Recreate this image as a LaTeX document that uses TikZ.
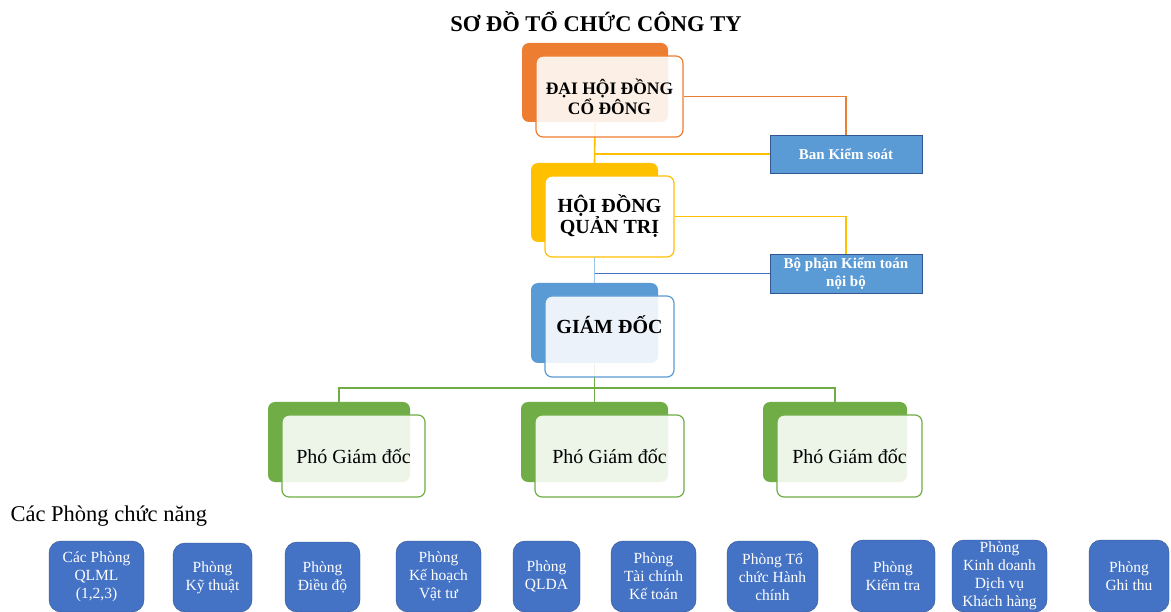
\documentclass[tikz,border=0pt]{standalone}
\usepackage{fontspec}
\setmainfont{Liberation Serif}
\usetikzlibrary{backgrounds}
\definecolor{Orng}{HTML}{ED7D31}
\definecolor{Ylw}{HTML}{FFC000}
\definecolor{Blu}{HTML}{5B9BD5}
\definecolor{LBlu}{HTML}{9DC3E6}
\definecolor{DBlu}{HTML}{4472C4}
\definecolor{Grn}{HTML}{70AD47}
\tikzset{
    back/.style={fill=#1, rounded corners=7pt, inner sep=0pt},
    front/.style={draw=#1, line width=1.2pt, fill=white, fill opacity=0.88,
        text opacity=1, rounded corners=7pt, align=center, inner sep=0pt},
    ctrl/.style={draw=DBlu!75!black, fill=Blu, text=white, align=center,
        font=\fontsize{15}{18}\selectfont\bfseries, inner sep=0pt,
        minimum width=152pt, minimum height=38pt},
    dept/.style={draw=DBlu!70!black, fill=DBlu, text=white, align=center,
        rounded corners=12pt, font=\fontsize{15.5}{18}\selectfont, inner sep=0pt},
    link/.style={draw=#1, line width=1.6pt},
}

\begin{document}
\begin{tikzpicture}[x=1pt,y=-1pt]
      \useasboundingbox (0,0) rectangle (1171,612);
      \node[font=\fontsize{22.5}{24}\selectfont\bfseries] (T) at (596,22) {SƠ ĐỒ TỔ CHỨC CÔNG TY};
      \node[back=Orng, minimum width=146pt, minimum height=79pt] (DHb) at (595,82.5) {};
      \node[front=Orng, minimum width=147pt, minimum height=81pt,
          font=\fontsize{17.5}{18}\selectfont\bfseries] (DH) at (609.5,96.5) {ĐẠI HỘI ĐỒNG\\CỔ ĐÔNG};
      \node[ctrl] (KS) at (846,154) {Ban Kiểm soát};
      \node[back=Ylw, minimum width=127pt, minimum height=79pt] (HQb) at (594.5,202.5) {};
      \node[front=Ylw, fill opacity=1, minimum width=129pt, minimum height=81pt,
          font=\fontsize{20}{21}\selectfont\bfseries] (HQ) at (609.5,216.5) {HỘI ĐỒNG\\QUẢN TRỊ};
      \node[ctrl, minimum height=39pt] (KT) at (846,273.5) {Bộ phận Kiểm toán\\nội bộ};
      \node[back=Blu, minimum width=127pt, minimum height=80pt] (GDb) at (594.5,323) {};
      \node[front=Blu, minimum width=129pt, minimum height=81pt] (GD) at (609.5,336.5) {};
      \node[font=\fontsize{20}{22}\selectfont\bfseries] (GDt) at (609.5,325) {GIÁM ĐỐC};
      \node[back=Grn, minimum width=142pt, minimum height=80pt] (P1b) at (339,442) {};
      \node[front=Grn, minimum width=143pt, minimum height=82pt,
          font=\fontsize{20}{21}\selectfont] (P1) at (353.5,456) {Phó Giám đốc};
      \node[back=Grn, minimum width=147pt, minimum height=80pt] (P2b) at (594.5,442) {};
      \node[front=Grn, minimum width=149pt, minimum height=82pt,
          font=\fontsize{20}{21}\selectfont] (P2) at (609.5,456) {Phó Giám đốc};
      \node[back=Grn, minimum width=144pt, minimum height=80pt] (P3b) at (835,442) {};
      \node[front=Grn, minimum width=145pt, minimum height=82pt,
          font=\fontsize{20}{21}\selectfont] (P3) at (849.5,456) {Phó Giám đốc};
      \coordinate (bus) at (594.5,388);
      \begin{scope}[on background layer]
        \draw[link=Orng] (DH.east) -| (KS.north);
        \draw[link=Ylw] (DHb.south) -- (HQb.north);
        \draw[link=Ylw] (DHb.south |- KS.west) -- (KS.west);
        \draw[link=Ylw] (HQ.east) -| (KT.north);
        \draw[link=LBlu] (HQb.south) -- (GDb.north);
        \draw[link=DBlu] (HQb.south |- KT.west) -- (KT.west);
        \draw[link=Grn] (GDb.south) -- (bus) -- (P2b.north);
        \draw[link=Grn] (P1b.north) |- (bus) -| (P3b.north);
      \end{scope}
      \node[anchor=west, font=\fontsize{22.5}{24}\selectfont] (CP) at (7,516.5) {Các Phòng chức năng};
      \node[dept, minimum width=95pt, minimum height=71pt] (D1) at (96.5,576.5) {Các Phòng\\QLML\\(1,2,3)};
      \node[dept, minimum width=79pt, minimum height=69pt] (D2) at (212.5,577.5) {Phòng\\Kỹ thuật};
      \node[dept, minimum width=75pt, minimum height=70pt] (D3) at (322.5,577) {Phòng\\Điều độ};
      \node[dept, minimum width=85pt, minimum height=71pt] (D4) at (438.5,576.5) {Phòng\\Kế hoạch\\Vật tư};
      \node[dept, minimum width=67pt, minimum height=71pt] (D5) at (546.5,576.5) {Phòng\\QLDA};
      \node[dept, minimum width=85pt, minimum height=71pt] (D6) at (653.5,576.5) {Phòng\\Tài chính\\Kế toán};
      \node[dept, minimum width=91pt, minimum height=71pt] (D7) at (772.5,576.5) {Phòng Tổ\\chức Hành\\chính};
      \node[dept, minimum width=84pt, minimum height=72pt] (D8) at (893,576) {Phòng\\Kiểm tra};
      \node[dept, minimum width=95pt, minimum height=72pt] (D9) at (999.5,576) {Phòng\\Kinh doanh\\Dịch vụ\\Khách hàng};
      \node[dept, minimum width=80pt, minimum height=72pt] (D10) at (1129,576) {Phòng\\Ghi thu};
\end{tikzpicture}
\end{document}
